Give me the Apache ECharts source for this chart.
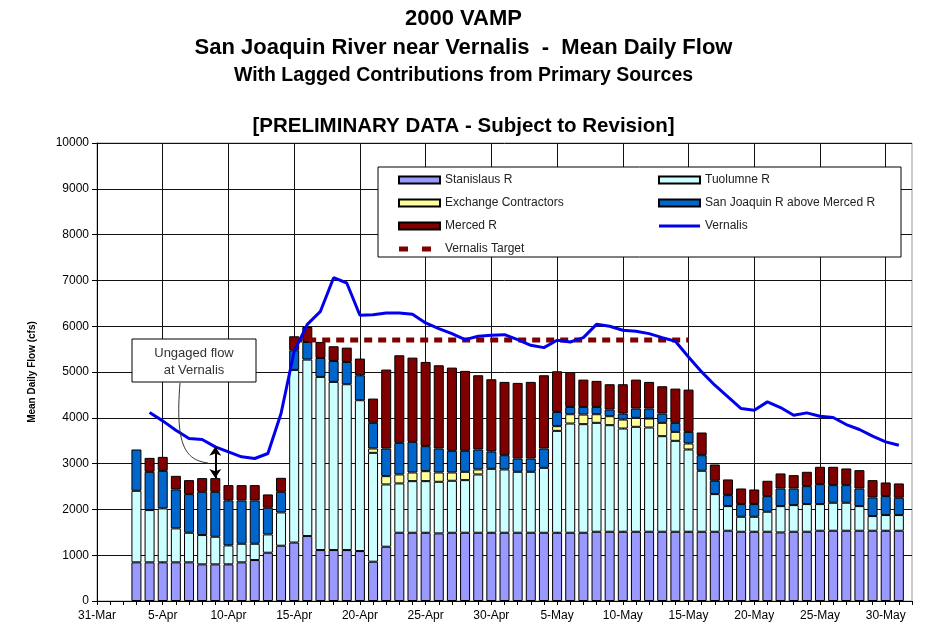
<!DOCTYPE html>
<html>
<head>
<meta charset="utf-8">
<script src="https://cdn.jsdelivr.net/npm/echarts@6/dist/echarts.min.js"></script>
<style>html,body{margin:0;padding:0;background:#fff}#c{width:927px;height:633px}</style>
</head>
<body>
<div id="c"></div>
<script>
var categories = ['31-Mar','1-Apr','2-Apr','3-Apr','4-Apr','5-Apr','6-Apr','7-Apr','8-Apr','9-Apr','10-Apr',
'11-Apr','12-Apr','13-Apr','14-Apr','15-Apr','16-Apr','17-Apr','18-Apr','19-Apr','20-Apr',
'21-Apr','22-Apr','23-Apr','24-Apr','25-Apr','26-Apr','27-Apr','28-Apr','29-Apr','30-Apr',
'1-May','2-May','3-May','4-May','5-May','6-May','7-May','8-May','9-May','10-May',
'11-May','12-May','13-May','14-May','15-May','16-May','17-May','18-May','19-May','20-May',
'21-May','22-May','23-May','24-May','25-May','26-May','27-May','28-May','29-May','30-May','31-May','1-Jun'];

var stanislaus = ['-','-','-',
844,844,844,844,844,800,800,800,844,894,1054,1207,1276,1418,1112,1112,1112,1090,858,1185,1490,1490,1490,1476,1490,1490,1490,1490,
1490,1490,1490,1490,1490,1490,1490,1512,1512,1512,1512,1512,1512,1512,1512,1512,1512,1534,1512,1512,1512,1497,1512,1512,1534,1534,1534,1534,1534,1534,1534,
'-'];
var tuolumne = ['-','-','-',
1562,1141,1178,742,646,640,603,414,406,356,400,727,3770,3853,3781,3672,3621,3294,2377,1360,1077,1127,1127,1127,1135,1149,1273,1396,
1382,1331,1331,1418,2225,2385,2371,2378,2327,2254,2291,2276,2087,1985,1796,1331,822,538,327,327,437,575,582,604,582,611,611,538,320,342,342,
'-'];
var exchange = ['-','-','-',
'-','-','-','-','-','-','-','-','-','-','-','-','-','-','-','-','-','-',95,181,196,189,218,203,181,182,109,'-',
'-','-','-','-',102,203,210,188,196,196,196,196,291,196,131,'-','-','-','-','-','-','-','-','-','-','-','-','-','-','-','-',
'-'];
var sanJoaquin = ['-','-','-',
902,835,820,850,844,944,981,982,946,946,582,450,428,385,414,458,487,545,560,604,690,669,546,524,473,458,436,379,
312,290,290,422,312,160,167,160,145,131,203,218,203,197,254,341,291,240,277,277,341,385,363,392,436,385,385,385,407,414,378,
'-'];
var merced = ['-','-','-',
'-',305,305,297,305,299,299,334,334,334,291,306,306,327,349,320,312,364,530,1723,1912,1839,1839,1817,1817,1745,1621,1577,
1600,1651,1673,1599,887,762,596,568,553,640,632,582,596,748,923,495,356,342,341,319,335,328,291,313,378,400,364,400,378,298,313,
'-'];
var vernalis = ['-','-','-','-',
4115,3933,3730,3548,3526,3366,3257,3148,3111,3221,4093,5450,6040,6325,7059,6943,6238,6252,6289,6289,6260,6071,5947,5838,5707,5780,5802,
5816,5707,5583,5532,5692,5656,5750,6041,5998,5911,5889,5838,5750,5671,5329,5002,4711,4457,4202,4166,4348,4224,4057,4108,4035,4006,3853,3744,3599,3475,3402,
'-'];
var vernalisTarget = [['15-Apr',5700],['15-May',5700]];
var ungagedArrow = [['9-Apr',3366],['9-Apr',2683]];

var FF = 'Liberation Sans, Arial, sans-serif';
var chart = echarts.init(document.getElementById('c'), null, {renderer:'canvas'});

function barSeries(name, data, color){
  return {name:name, type:'bar', stack:'flow', data:data, barWidth:10,
    itemStyle:{color:color, borderColor:'#000', borderWidth:1}, z:2};
}
var legendText = {fontFamily:FF, fontSize:12, color:'#222'};
var lineIcon = 'path://M0,0h41v3h-41z';
var dashIcon = 'path://M0,0h9v5h-9z M23,0h9v5h-9z M41,2.4h0.01v0.2h-0.01z';

chart.setOption({
  animation:false,
  backgroundColor:'#fff',
  textStyle:{fontFamily:FF},
  title:[
    {text:'2000 VAMP', left:'center', top:3, textStyle:{fontFamily:FF, fontWeight:'bold', fontSize:22, color:'#000'}},
    {text:'San Joaquin River near Vernalis  -  Mean Daily Flow', left:'center', top:32, textStyle:{fontFamily:FF, fontWeight:'bold', fontSize:22, color:'#000'}},
    {text:'With Lagged Contributions from Primary Sources', left:'center', top:61, textStyle:{fontFamily:FF, fontWeight:'bold', fontSize:19.5, color:'#000'}},
    {text:'[PRELIMINARY DATA - Subject to Revision]', left:'center', top:111, textStyle:{fontFamily:FF, fontWeight:'bold', fontSize:20.5, color:'#000'}}
  ],
  grid:{left:97, right:15, top:143, bottom:32, show:true, borderColor:'#999', borderWidth:1, backgroundColor:'transparent'},
  legend:[
    {data:[{name:'Stanislaus R', icon:'rect'},{name:'Exchange Contractors', icon:'rect'},{name:'Merced R', icon:'rect'},{name:'Vernalis Target', icon:dashIcon}],
     orient:'vertical', left:398, top:174, padding:0, itemWidth:41, itemHeight:7, itemGap:11, textStyle:legendText},
    {data:[{name:'Tuolumne R', icon:'rect'},{name:'San Joaquin R above Merced R', icon:'rect'},{name:'Vernalis', icon:lineIcon}],
     orient:'vertical', left:658, top:174, padding:0, itemWidth:41, itemHeight:7, itemGap:11, textStyle:legendText}
  ],
  xAxis:{type:'category', data:categories, boundaryGap:false,
    axisLine:{lineStyle:{color:'#000', width:1}},
    axisTick:{show:true, interval:0, length:4, lineStyle:{color:'#000'}},
    axisLabel:{interval:function(i){return i % 5 === 0;}, color:'#000', fontSize:12, fontFamily:FF, margin:9},
    splitLine:{show:true, interval:function(i){return i % 5 === 0;}, lineStyle:{color:'#111', width:1}}
  },
  yAxis:{type:'value', min:0, max:10000, interval:1000,
    name:'Mean Daily Flow (cfs)', nameLocation:'middle', nameGap:60, nameRotate:90,
    nameTextStyle:{fontFamily:FF, fontWeight:'bold', fontSize:10, color:'#000'},
    axisLine:{show:true, lineStyle:{color:'#000'}},
    axisTick:{show:true, length:5, lineStyle:{color:'#000'}},
    axisLabel:{color:'#000', fontSize:12, fontFamily:FF, margin:8, formatter:function(v){return String(v);}},
    splitLine:{show:true, lineStyle:{color:'#111', width:1}}
  },
  graphic:[
    {type:'rect', shape:{x:378, y:167, width:523, height:90}, style:{fill:'#fff', stroke:'#000', lineWidth:1}, z:3},
    {type:'rect', shape:{x:132, y:339, width:124, height:43}, style:{fill:'#fff', stroke:'#000', lineWidth:1}, z:5},
    {type:'text', x:194, y:353, style:{text:'Ungaged flow', x:0, y:0, align:'center', verticalAlign:'middle', fill:'#333', font:'13px Liberation Sans, Arial, sans-serif'}, z:6},
    {type:'text', x:194, y:370, style:{text:'at Vernalis', x:0, y:0, align:'center', verticalAlign:'middle', fill:'#333', font:'13px Liberation Sans, Arial, sans-serif'}, z:6},
    {type:'bezierCurve', shape:{x1:180, y1:383, x2:208, y2:463, cpx1:175, cpy1:445, cpx2:185, cpy2:460}, style:{stroke:'#333', lineWidth:1, fill:null}, z:6}
  ],
  series:[
    barSeries('Stanislaus R', stanislaus, '#9999FF'),
    barSeries('Tuolumne R', tuolumne, '#CCFFFF'),
    barSeries('Exchange Contractors', exchange, '#FFFF99'),
    barSeries('San Joaquin R above Merced R', sanJoaquin, '#0066CC'),
    barSeries('Merced R', merced, '#800000'),
    {name:'Vernalis', type:'line', data:vernalis, symbol:'none', showSymbol:false, z:4,
     lineStyle:{color:'#0000EE', width:3}, itemStyle:{color:'#0000EE'},
     markLine:{silent:true, symbol:['arrow','arrow'], symbolSize:[9,9], label:{show:false},
       lineStyle:{color:'#000', width:2, type:'solid'},
       data:[[{coord:ungagedArrow[0]},{coord:ungagedArrow[1]}]]}},
    {name:'Vernalis Target', type:'line', data:vernalisTarget, symbol:'none', showSymbol:false, z:3,
     lineStyle:{color:'#800000', width:5, type:[8,6], cap:'butt'}, itemStyle:{color:'#800000'}}
  ]
});
</script>
</body>
</html>
